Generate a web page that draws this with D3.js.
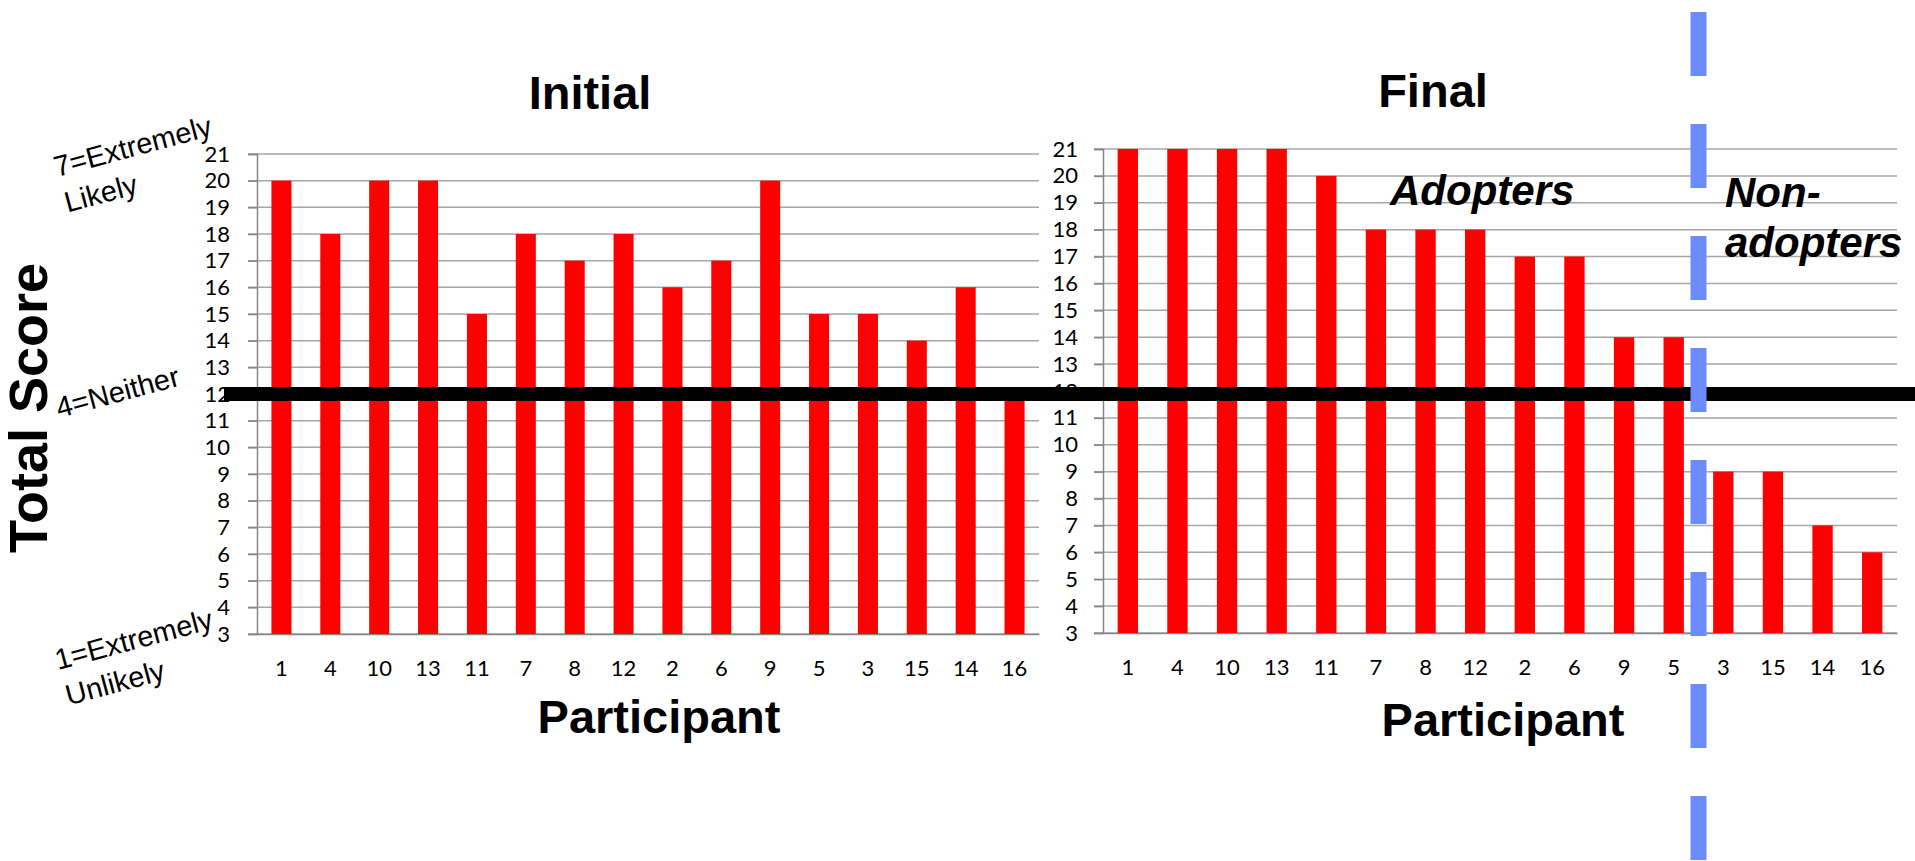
<!DOCTYPE html>
<html>
<head>
<meta charset="utf-8">
<script src="https://cdn.jsdelivr.net/npm/d3@7"></script>
<style>
  html, body { margin: 0; padding: 0; background: #fff; }
  svg { display: block; }
  .tick text { font-family: Lato, "Open Sans", sans-serif; font-size: 22px; fill: #000; }
</style>
</head>
<body>
<script>
// Participants in the order they appear on both charts
const participants = ["1","4","10","13","11","7","8","12","2","6","9","5","3","15","14","16"];
// Total score per participant, before and after
const initialScores = [20,18,20,20,15,18,17,18,16,17,20,15,15,14,16,12];
const finalScores   = [21,21,21,21,20,18,18,18,17,17,14,14,9,9,7,6];
const yTicks = [3,4,5,6,7,8,9,10,11,12,13,14,15,16,17,18,19,20,21];
const neutralScore = 12;            // "4=Neither" reference level
const adopterCount = 12;            // first 12 participants in the final chart adopted

const W = 1915, H = 861;
const svg = d3.select("body").append("svg").attr("width", W).attr("height", H);

const gridColor = "#a6a6a6", axisColor = "#868686", red = "#ff0000";

function panel(values, left, right, top, bottom, labelRight) {
  const x = d3.scaleBand().domain(participants).range([left, right])
    .paddingInner(0.59).paddingOuter(0.295);
  const y = d3.scaleLinear().domain([3, 21]).range([bottom, top]);
  const g = svg.append("g");

  // horizontal gridlines
  g.append("g").selectAll("line").data(yTicks).join("line")
    .attr("x1", left - 9).attr("x2", right)
    .attr("y1", d => y(d)).attr("y2", d => y(d))
    .attr("stroke", gridColor).attr("stroke-width", 1.5);

  // y axis
  const ya = g.append("g").attr("transform", `translate(${left},0)`)
    .call(d3.axisLeft(y).tickValues(yTicks).tickSize(9).tickPadding(left - labelRight - 9).tickFormat(d3.format("d")));
  ya.select(".domain").attr("stroke", axisColor).attr("stroke-width", 1.5);
  ya.selectAll(".tick line").attr("stroke", axisColor).attr("stroke-width", 1.5);

  // x axis
  const xa = g.append("g").attr("transform", `translate(0,${bottom})`)
    .call(d3.axisBottom(x).tickSize(0).tickPadding(34));
  xa.select(".domain").attr("stroke", axisColor).attr("stroke-width", 1.5);
  xa.selectAll(".tick text").attr("dy", "0.35em").attr("y", 34);

  // bars
  g.append("g").selectAll("rect").data(values).join("rect")
    .attr("x", (d, i) => x(participants[i]))
    .attr("width", x.bandwidth())
    .attr("y", d => y(d))
    .attr("height", d => y(3) - y(d))
    .attr("fill", red);

  return { x, y };
}

const L = panel(initialScores, 257, 1039, 154, 634, 230);
const R = panel(finalScores, 1103, 1897, 149, 633, 1078);

// neutral reference line across both charts
svg.append("line")
  .attr("x1", 224).attr("x2", W)
  .attr("y1", L.y(neutralScore)).attr("y2", L.y(neutralScore))
  .attr("stroke", "#000").attr("stroke-width", 14);

// divider between adopters and non-adopters, midway between the two bars
const splitX = (R.x(participants[adopterCount - 1]) + R.x.bandwidth() + R.x(participants[adopterCount])) / 2;
svg.append("line")
  .attr("x1", splitX).attr("x2", splitX)
  .attr("y1", 12).attr("y2", H)
  .attr("stroke", "#6b8cff").attr("stroke-width", 16)
  .attr("stroke-dasharray", "64 48");

// titles and axis labels
const bold = (t, x, y, size, anchor, italic) => svg.append("text")
  .attr("x", x).attr("y", y).text(t)
  .attr("font-family", '"Liberation Sans", Arial, sans-serif')
  .attr("font-weight", "bold").attr("font-size", size)
  .attr("font-style", italic ? "italic" : "normal")
  .attr("text-anchor", anchor || "middle");

bold("Initial", 590, 109, 47);
bold("Final", 1433, 107, 47);
bold("Participant", 659, 733, 47);
bold("Participant", 1503, 736, 47);
bold("Adopters", 1390, 205, 42, "start", true);
bold("Non-", 1725, 207, 42, "start", true);
bold("adopters", 1725, 257, 42, "start", true);

svg.append("text")
  .attr("transform", "translate(47,408) rotate(-90)")
  .attr("text-anchor", "middle")
  .attr("font-family", '"Liberation Sans", Arial, sans-serif')
  .attr("font-weight", "bold").attr("font-size", 54)
  .text("Total Score");

// scale anchors beside the y axis
const anchors = [
  { lines: ["7=Extremely", "Likely"], x: 57, y: 177 },
  { lines: ["4=Neither"], x: 59, y: 418 },
  { lines: ["1=Extremely", "Unlikely"], x: 58, y: 670 }
];
anchors.forEach(a => {
  const t = svg.append("text")
    .attr("transform", `translate(${a.x},${a.y}) rotate(-15)`)
    .attr("font-family", '"Liberation Sans", Arial, sans-serif')
    .attr("font-size", 29);
  a.lines.forEach((s, i) => t.append("tspan").attr("x", i ? 1 : 0).attr("y", i * 37).text(s));
});
</script>
</body>
</html>
